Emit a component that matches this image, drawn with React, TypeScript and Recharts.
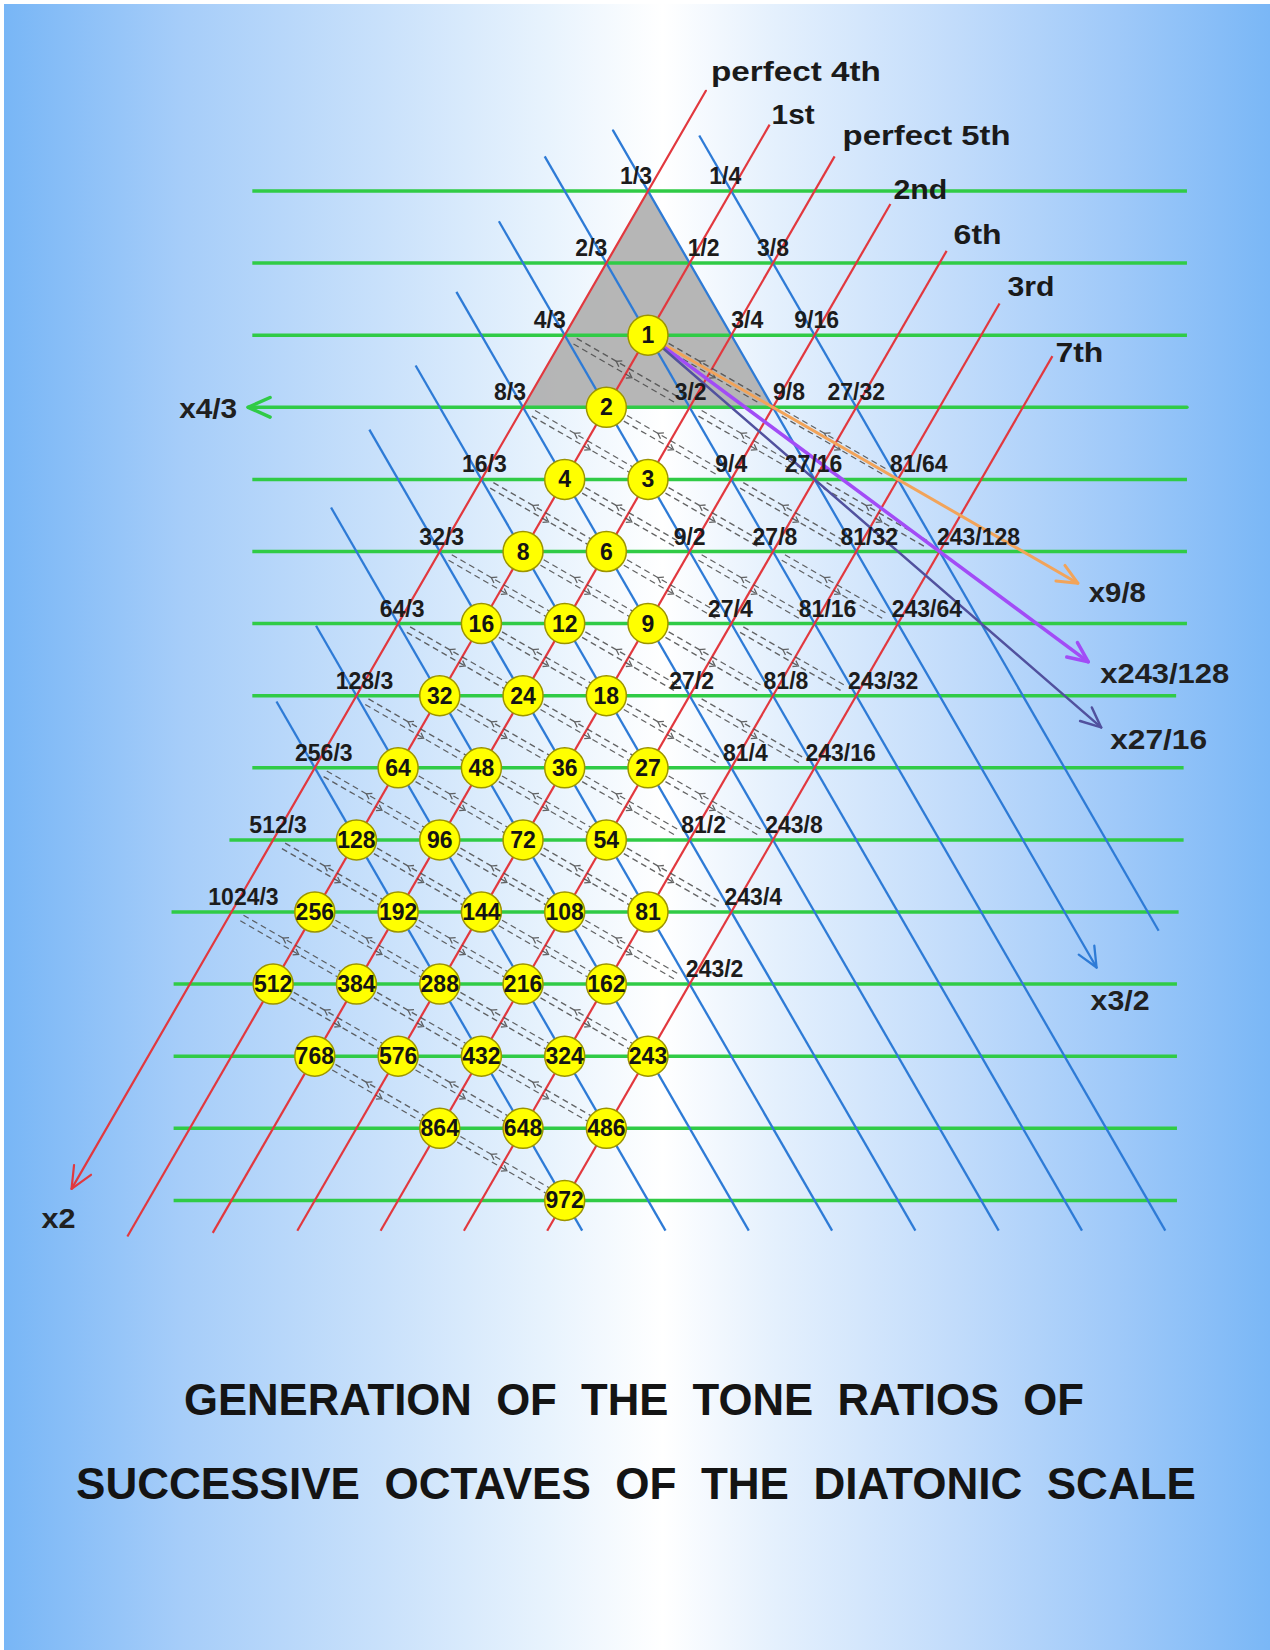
import React from 'react';
import { ComposedChart, XAxis, YAxis, ReferenceLine, ReferenceArea, Scatter } from 'recharts';

// ratios drawn in yellow circles
const wholeRatios = [
  '1', '2', '4', '3', '8', '6', '16', '12', '9', '32', '24', '18',
  '64', '48', '36', '27', '128', '96', '72', '54', '256', '192', '144', '108', '81',
  '512', '384', '288', '216', '162', '768', '576', '432', '324', '243',
  '864', '648', '486', '972',
];
// ratios written at line crossings
const fractionRatios = [
  '1/3', '1/4', '2/3', '1/2', '3/8', '4/3', '3/4', '9/16', '8/3', '3/2', '9/8', '27/32',
  '16/3', '9/4', '27/16', '81/64', '32/3', '9/2', '27/8', '81/32', '243/128',
  '64/3', '27/4', '81/16', '243/64', '128/3', '27/2', '81/8', '243/32',
  '256/3', '81/4', '243/16', '512/3', '81/2', '243/8', '1024/3', '243/4', '243/2',
];

// green rows (x4/3 direction)
const greenRows = [0, 1, 2, 3, 4, 5, 6, 7, 8, 9, 10, 11, 12, 13, 14];
const greenStart = [-9.5, -9.5, -9.5, -9.6, -9.5, -9.5, -9.5, -9.5, -9.5, -10.05, -11.44, -11.39, -11.39, -11.39, -11.39];
const greenEnd = [12.94, 12.94, 12.94, 12.94, 12.94, 12.94, 12.94, 12.68, 12.86, 12.86, 12.74, 12.7, 12.7, 12.7, 12.7];

// red lines (x2 direction), one per power of 3
const redPowers = [-1, 0, 1, 2, 3, 4, 5];
const redTop = [-1.39, -0.92, -0.48, 0.18, 0.83, 1.56, 2.29];
const redBottom = [13.84, 14.5, 14.45, 14.42, 14.42, 14.42, 14.42];
const intervalNames = ['perfect  4th', '1st', 'perfect  5th', '2nd', '6th', '3rd', '7th'];

// blue lines (x3/2 direction), one per sum of powers
const bluePowers = [-2, -1, 0, 1, 2, 3, 4, 5, 6, 7];
const blueTop = [-0.77, -0.84, -0.48, 0.42, 1.4, 2.42, 3.31, 4.39, 6.03, 7.08];
const blueBottom = [10.26, 10.77, 14.42, 14.42, 14.42, 14.42, 14.42, 14.42, 14.42, 14.42];

// coloured arrows out of 1
const arrowRatios = ['9/8', '243/128', '27/16'];
const arrowReach = [3.44, 1.51, 2.72];

const titleLines = ['GENERATION  OF  THE  TONE  RATIOS  OF', 'SUCCESSIVE  OCTAVES  OF  THE  DIATONIC  SCALE'];

// layout
const W = 1270;
const H = 1650;
const X0 = 648;
const HALF = 41.65;
const Y0 = 191;
const ROW = 72.1;
const X_DOMAIN: [number, number] = [-X0 / HALF, (W - X0) / HALF];
const Y_DOMAIN: [number, number] = [-Y0 / ROW, (H - Y0) / ROW];
const FONT = '"Liberation Sans", Arial, sans-serif';

const GREEN = '#30cb46';
const RED = '#e2383e';
const BLUE = '#2e7bd6';
const arrowColors = ['#f2a45a', '#a24cf6', '#51519e'];
const arrowWidths = [3, 3.5, 2.5];

const intervalOffsets = [[5, -19, 170], [2, -10, 43], [8, -20, 168], [3, -14, 54], [7, -16, 48], [8, -16, 47], [3, -3, 48]];
// horizontal nudge of each crossing label (same order as fractionRatios)
const fractionShift = [
  -12, -6, -15, 14, 0, -15, 16, 2, -13, 1, 16, 0,
  3, 0, -1, 21, 2, 0, 2, 13, 39,
  4, -1, 13, 29, 8, 2, 13, 27,
  9, 14, 26, 5, 14, 21, 12, 22, 25,
];

const countPow = (n: number, p: number) => {
  let k = 0;
  while (n > 0 && n % p === 0) { n /= p; k++; }
  return k;
};

const lattice = (r: string) => {
  const [num, den = '1'] = r.split('/');
  const p = Number(num);
  const q = Number(den);
  const a = countPow(p, 2) - countPow(q, 2);
  const b = countPow(p, 3) - countPow(q, 3);
  return { x: -a, y: 2 + a + 2 * b };
};

const arrowShape = (color: string, width: number, head: number) => (p: any) => {
  const { x1, y1, x2, y2 } = p;
  const ang = Math.atan2(y2 - y1, x2 - x1);
  const a1 = ang + Math.PI - 0.42;
  const a2 = ang + Math.PI + 0.42;
  return (
    <g>
      <line x1={x1} y1={y1} x2={x2} y2={y2} stroke={color} strokeWidth={width} strokeLinecap="round" />
      <polyline
        points={`${x2 + head * Math.cos(a1)},${y2 + head * Math.sin(a1)} ${x2},${y2} ${x2 + head * Math.cos(a2)},${y2 + head * Math.sin(a2)}`}
        fill="none" stroke={color} strokeWidth={width} strokeLinecap="round" strokeLinejoin="round"
      />
    </g>
  );
};

const dashPairShape = (p: any) => {
  const { x1, y1, x2, y2 } = p;
  const dx = x2 - x1;
  const dy = y2 - y1;
  const len = Math.hypot(dx, dy);
  const ux = dx / len;
  const uy = dy / len;
  const nx = -uy * 3.2;
  const ny = ux * 3.2;
  const s = 12;
  const e = 14;
  const ax = x1 + ux * s, ay = y1 + uy * s, bx = x2 - ux * e, by = y2 - uy * e;
  const chev = (cx: number, cy: number, dir: number) => {
    const ang = Math.atan2(uy * dir, ux * dir);
    const h = 6;
    return `${cx + h * Math.cos(ang + Math.PI - 0.6)},${cy + h * Math.sin(ang + Math.PI - 0.6)} ${cx},${cy} ${cx + h * Math.cos(ang + Math.PI + 0.6)},${cy + h * Math.sin(ang + Math.PI + 0.6)}`;
  };
  const mx = x1 + dx * 0.55;
  const my = y1 + dy * 0.55;
  return (
    <g stroke="#4a4a4a" strokeWidth={1.3} fill="none" opacity={0.85}>
      <line x1={ax + nx} y1={ay + ny} x2={bx + nx} y2={by + ny} strokeDasharray="6 4" />
      <line x1={ax - nx} y1={ay - ny} x2={bx - nx} y2={by - ny} strokeDasharray="6 4" />
      <polyline points={chev(mx + nx, my + ny, 1)} />
      <polyline points={chev(x1 + dx * 0.4 - nx, y1 + dy * 0.4 - ny, -1)} />
    </g>
  );
};

const triangleShape = (p: any) => {
  const top = Math.min(p.y, p.y + p.height);
  const bottom = Math.max(p.y, p.y + p.height);
  const left = Math.min(p.x, p.x + p.width);
  const right = Math.max(p.x, p.x + p.width);
  return (
    <polygon
      points={`${(left + right) / 2},${top} ${left},${bottom} ${right},${bottom}`}
      fill="#b0b0b0" fillOpacity={0.92}
    />
  );
};

const NodeDot = (p: any) => (
  <g>
    <circle cx={p.cx} cy={p.cy} r={20} fill="#ffff00" stroke="#9c9400" strokeWidth={1.5} />
    <text x={p.cx} y={p.cy + 8} textAnchor="middle" fontFamily={FONT} fontWeight="bold" fontSize={23} fill="#141414">
      {p.payload.label}
    </text>
  </g>
);

const FractionText = (p: any) => (
  <text x={p.cx + fractionShift[p.payload.i]} y={p.cy - 7} textAnchor="middle" fontFamily={FONT} fontWeight="bold" fontSize={23} fill="#1c1c1c">
    {p.payload.label}
  </text>
);

const IntervalText = (p: any) => {
  const [ox, oy, w] = intervalOffsets[p.payload.i];
  return (
    <text x={p.cx + ox} y={p.cy + oy + 9} fontFamily={FONT} fontWeight="bold" fontSize={27} fill="#1a1a1a"
      textLength={w} lengthAdjust="spacingAndGlyphs">
      {p.payload.label}
    </text>
  );
};

const AxisText = (p: any) => {
  const { ox, oy, w } = p.payload;
  return (
    <text x={p.cx + ox} y={p.cy + oy + 10} fontFamily={FONT} fontWeight="bold" fontSize={28} fill="#202020"
      textLength={w} lengthAdjust="spacingAndGlyphs">
      {p.payload.label}
    </text>
  );
};

export default function App() {
  const nodes = wholeRatios.map((r) => ({ ...lattice(r), label: r }));
  const fracs = fractionRatios.map((r, i) => ({ ...lattice(r), label: r, i }));
  const all = [...nodes, ...fracs];
  const key = (x: number, y: number) => `${x},${y}`;
  const present = new Set(all.map((n) => key(n.x, n.y)));
  const unit = lattice('1');
  const step98 = lattice('9/8');
  const sx = step98.x - unit.x;
  const sy = step98.y - unit.y;
  const dashSources = all.filter(
    (n) => (n.y >= 3 || n.label === '4/3' || n.label === '1') && present.has(key(n.x + sx, n.y + sy)),
  );

  const intervalPoints = redPowers.map((b, i) => ({ x: 2 + 2 * b - redTop[i], y: redTop[i], label: intervalNames[i], i }));

  const arrowEnds = arrowRatios.map((r, i) => {
    const t = lattice(r);
    return { x: unit.x + (t.x - unit.x) * arrowReach[i], y: unit.y + (t.y - unit.y) * arrowReach[i] };
  });

  const axisLabels = [
    { x: arrowEnds[0].x, y: arrowEnds[0].y, label: 'x9/8', ox: 11, oy: 9, w: 57 },
    { x: arrowEnds[1].x, y: arrowEnds[1].y, label: 'x243/128', ox: 12, oy: 11, w: 129 },
    { x: arrowEnds[2].x, y: arrowEnds[2].y, label: 'x27/16', ox: 9, oy: 12, w: 97 },
    { x: blueBottom[1] - 2 - 2 * bluePowers[1], y: blueBottom[1], label: 'x3/2', ox: -6, oy: 32, w: 59 },
    { x: greenStart[3], y: greenRows[3], label: 'x4/3', ox: -69, oy: 1, w: 58 },
    { x: 2 + 2 * redPowers[0] - redBottom[0], y: redBottom[0], label: 'x2', ox: -30, oy: 29, w: 34 },
  ];

  return (
    <div style={{ position: 'absolute', left: 0, top: 0, width: W, height: H, background: '#ffffff', overflow: 'hidden' }}>
      <div
        style={{
          position: 'absolute', left: 4, top: 4, right: 0, bottom: 0,
          background: 'linear-gradient(to right, #78b6f6 0%, #a6cdf9 14%, #c9e1fb 30%, #e8f3fd 43%, #ffffff 52%, #e4f0fd 61%, #c2dcfb 75%, #9fc9f9 88%, #7ab7f6 100%)',
        }}
      />
      <div style={{ position: 'absolute', left: 0, top: 0 }}>
        <ComposedChart width={W} height={H} margin={{ top: 0, right: 0, bottom: 0, left: 0 }}>
          <XAxis type="number" dataKey="x" domain={X_DOMAIN} allowDataOverflow hide />
          <YAxis type="number" dataKey="y" domain={Y_DOMAIN} allowDataOverflow reversed hide />

          <ReferenceArea x1={-3} x2={3} y1={0} y2={3} ifOverflow="visible" shape={triangleShape} />

          {greenRows.map((r, i) =>
            i === 3 ? (
              <ReferenceLine key={`g${r}`} ifOverflow="visible"
                segment={[{ x: greenEnd[i], y: r }, { x: greenStart[i], y: r }]}
                shape={arrowShape(GREEN, 3.5, 24)} />
            ) : (
              <ReferenceLine key={`g${r}`} ifOverflow="visible"
                segment={[{ x: greenStart[i], y: r }, { x: greenEnd[i], y: r }]}
                stroke={GREEN} strokeWidth={3.5} />
            ),
          )}

          {bluePowers.map((c, i) =>
            i === 1 ? (
              <ReferenceLine key={`b${c}`} ifOverflow="visible"
                segment={[{ x: blueTop[i] - 2 - 2 * c, y: blueTop[i] }, { x: blueBottom[i] - 2 - 2 * c, y: blueBottom[i] }]}
                shape={arrowShape(BLUE, 2.3, 22)} />
            ) : (
              <ReferenceLine key={`b${c}`} ifOverflow="visible"
                segment={[{ x: blueTop[i] - 2 - 2 * c, y: blueTop[i] }, { x: blueBottom[i] - 2 - 2 * c, y: blueBottom[i] }]}
                stroke={BLUE} strokeWidth={2.3} />
            ),
          )}

          {redPowers.map((b, i) =>
            i === 0 ? (
              <ReferenceLine key={`r${b}`} ifOverflow="visible"
                segment={[{ x: 2 + 2 * b - redTop[i], y: redTop[i] }, { x: 2 + 2 * b - redBottom[i], y: redBottom[i] }]}
                shape={arrowShape(RED, 2.2, 24)} />
            ) : (
              <ReferenceLine key={`r${b}`} ifOverflow="visible"
                segment={[{ x: 2 + 2 * b - redTop[i], y: redTop[i] }, { x: 2 + 2 * b - redBottom[i], y: redBottom[i] }]}
                stroke={RED} strokeWidth={2.2} />
            ),
          )}

          {dashSources.map((n) => (
            <ReferenceLine key={`d${n.label}`} ifOverflow="visible"
              segment={[{ x: n.x, y: n.y }, { x: n.x + sx, y: n.y + sy }]}
              shape={dashPairShape} />
          ))}

          {arrowEnds.map((e, i) => (
            <ReferenceLine key={`a${i}`} ifOverflow="visible"
              segment={[{ x: unit.x, y: unit.y }, { x: e.x, y: e.y }]}
              shape={arrowShape(arrowColors[i], arrowWidths[i], 22)} />
          ))}

          <Scatter data={fracs} shape={FractionText} isAnimationActive={false} legendType="none" />
          <Scatter data={nodes} shape={NodeDot} isAnimationActive={false} legendType="none" />
          <Scatter data={intervalPoints} shape={IntervalText} isAnimationActive={false} legendType="none" />
          <Scatter data={axisLabels} shape={AxisText} isAnimationActive={false} legendType="none" />
        </ComposedChart>
      </div>
      <svg width={W} height={H} style={{ position: 'absolute', left: 0, top: 0, pointerEvents: 'none' }}>
        <text x={184} y={1415} fontFamily={FONT} fontWeight="bold" fontSize={45} fill="#141414"
          textLength={900} lengthAdjust="spacingAndGlyphs" style={{ whiteSpace: 'pre' }}>
          {titleLines[0]}
        </text>
        <text x={76} y={1499} fontFamily={FONT} fontWeight="bold" fontSize={45} fill="#141414"
          textLength={1120} lengthAdjust="spacingAndGlyphs" style={{ whiteSpace: 'pre' }}>
          {titleLines[1]}
        </text>
      </svg>
    </div>
  );
}
